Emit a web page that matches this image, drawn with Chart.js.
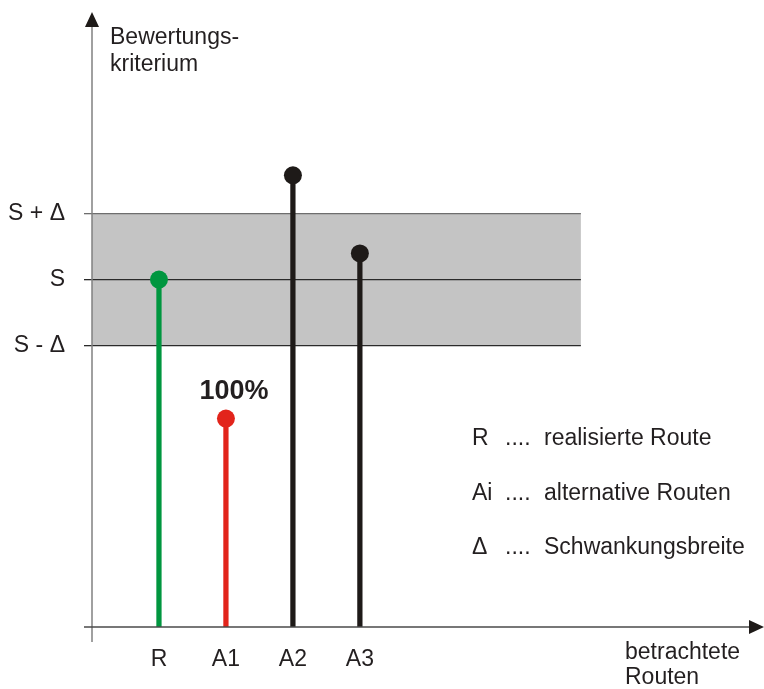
<!DOCTYPE html>
<html>
<head>
<meta charset="utf-8">
<title>Bewertungskriterium</title>
<script src="https://cdn.jsdelivr.net/npm/chart.js@4.4.1/dist/chart.umd.min.js"></script>
<style>
  html, body { margin: 0; padding: 0; background: #fff; }
  #wrap { width: 764px; height: 689px; }
</style>
</head>
<body>
<div id="wrap"><canvas id="chart" width="764" height="689"></canvas></div>
<script>
// routes on the x axis
const routeLabels = ['R', 'A1', 'A2', 'A3'];
const routePos = [1, 2, 3, 4];
const routeValues = [10, 6.0, 13.0, 10.75];

// band: S and S +/- delta
const levelS = 10;
const delta = 1.9;
const bandEnd = 7.3;
const yTickValues = [levelS - delta, levelS, levelS + delta];
const yTickLabels = ['S - Δ', 'S', 'S + Δ'];

// texts
const yTitle = ['Bewertungs-', 'kriterium'];
const xTitle = ['betrachtete', 'Routen'];
const a1Note = '100%';
const legendKeys = ['R', 'Ai', 'Δ'];
const legendTexts = ['realisierte Route', 'alternative Routen', 'Schwankungsbreite'];

const FONT = '"Liberation Sans", Arial, sans-serif';
const INK = '#231f20';
const routeColors = ['#00963f', '#e2241b', '#1e1a18', '#1e1a18'];

const pts = (ys) => ys.map((y, i) => ({ x: routePos[i], y: y }));
const hline = (y) => [{ x: 0, y: y }, { x: bandEnd, y: y }];

const decor = {
    id: 'decor',
    afterDatasetsDraw(chart) {
        const ctx = chart.ctx;
        const a = chart.chartArea;
        const xs = chart.scales.x, ys = chart.scales.y;
        const tipX = a.right + 9;
        ctx.save();

        // y axis with arrow
        ctx.strokeStyle = '#808080';
        ctx.lineWidth = 1.5;
        ctx.beginPath();
        ctx.moveTo(a.left, a.bottom + 15);
        ctx.lineTo(a.left, a.top + 14);
        ctx.stroke();
        ctx.fillStyle = '#1e1a18';
        ctx.beginPath();
        ctx.moveTo(a.left, a.top);
        ctx.lineTo(a.left - 7, a.top + 15);
        ctx.lineTo(a.left + 7, a.top + 15);
        ctx.closePath();
        ctx.fill();

        // x axis with arrow
        ctx.strokeStyle = '#4a4a4a';
        ctx.beginPath();
        ctx.moveTo(a.left - 8, a.bottom);
        ctx.lineTo(tipX - 13, a.bottom);
        ctx.stroke();
        ctx.beginPath();
        ctx.moveTo(tipX, a.bottom);
        ctx.lineTo(tipX - 15, a.bottom - 7);
        ctx.lineTo(tipX - 15, a.bottom + 7);
        ctx.closePath();
        ctx.fill();

        ctx.fillStyle = INK;
        ctx.textBaseline = 'middle';
        ctx.textAlign = 'left';
        ctx.font = '23px ' + FONT;
        ctx.fillText(yTitle[0], a.left + 18, 38);
        ctx.fillText(yTitle[1], a.left + 18, 65);
        ctx.fillText(xTitle[0], 625, 653);
        ctx.fillText(xTitle[1], 625, 678);

        // legend
        legendKeys.forEach((k, i) => {
            const y = 439 + i * 54.5;
            ctx.fillText(k, 472, y);
            ctx.fillText('....', 505, y);
            ctx.fillText(legendTexts[i], 544, y);
        });

        // note above A1
        ctx.font = 'bold 27px ' + FONT;
        ctx.textAlign = 'center';
        ctx.fillText(a1Note, xs.getPixelForValue(routePos[1]) + 8, ys.getPixelForValue(routeValues[1]) - 27);
        ctx.restore();
    }
};

new Chart(document.getElementById('chart'), {
    type: 'bar',
    data: {
        datasets: [
            {
                type: 'line', data: hline(levelS + delta), borderColor: '#6e6e6e', borderWidth: 1.3,
                backgroundColor: '#c4c4c4', fill: '+1', pointRadius: 0, order: 10
            },
            {
                type: 'line', data: hline(levelS - delta), borderColor: '#2a2a2a', borderWidth: 1.3,
                pointRadius: 0, fill: false, order: 9
            },
            {
                type: 'line', data: hline(levelS), borderColor: '#2a2a2a', borderWidth: 1.3,
                pointRadius: 0, fill: false, order: 8
            },
            {
                type: 'bar', data: pts(routeValues), backgroundColor: routeColors,
                barThickness: 4.6, order: 2
            },
            {
                type: 'line', data: pts(routeValues), showLine: false, pointRadius: 9,
                pointBackgroundColor: routeColors, pointBorderWidth: 0, order: 1
            }
        ]
    },
    options: {
        responsive: false,
        animation: false,
        layout: { padding: { top: 12, right: 2, left: 0, bottom: 0 } },
        plugins: { legend: { display: false }, tooltip: { enabled: false } },
        scales: {
            x: {
                type: 'linear', min: 0, max: 9.9, offset: false,
                border: { display: false },
                grid: { display: false, drawTicks: false },
                afterBuildTicks: (s) => { s.ticks = routePos.map(v => ({ value: v })); },
                afterFit: (s) => { s.height = 62; s.paddingLeft = 0; s.paddingRight = 0; },
                ticks: {
                    padding: 19, color: INK, font: { family: FONT, size: 23 },
                    callback: (v) => routeLabels[routePos.indexOf(v)]
                }
            },
            y: {
                min: 0, max: 17.7,
                border: { display: false },
                grid: {
                    drawOnChartArea: false, drawTicks: true, tickLength: 8, lineWidth: 1.3,
                    color: (c) => (c.index === 2 ? '#6e6e6e' : '#2a2a2a')
                },
                afterBuildTicks: (s) => { s.ticks = yTickValues.map(v => ({ value: v })); },
                afterFit: (s) => { s.width = 92; s.paddingTop = 0; s.paddingBottom = 0; },
                ticks: {
                    padding: 19, color: INK, font: { family: FONT, size: 23 },
                    callback: (v) => yTickLabels[yTickValues.indexOf(v)]
                }
            }
        }
    },
    plugins: [decor]
});
</script>
</body>
</html>
